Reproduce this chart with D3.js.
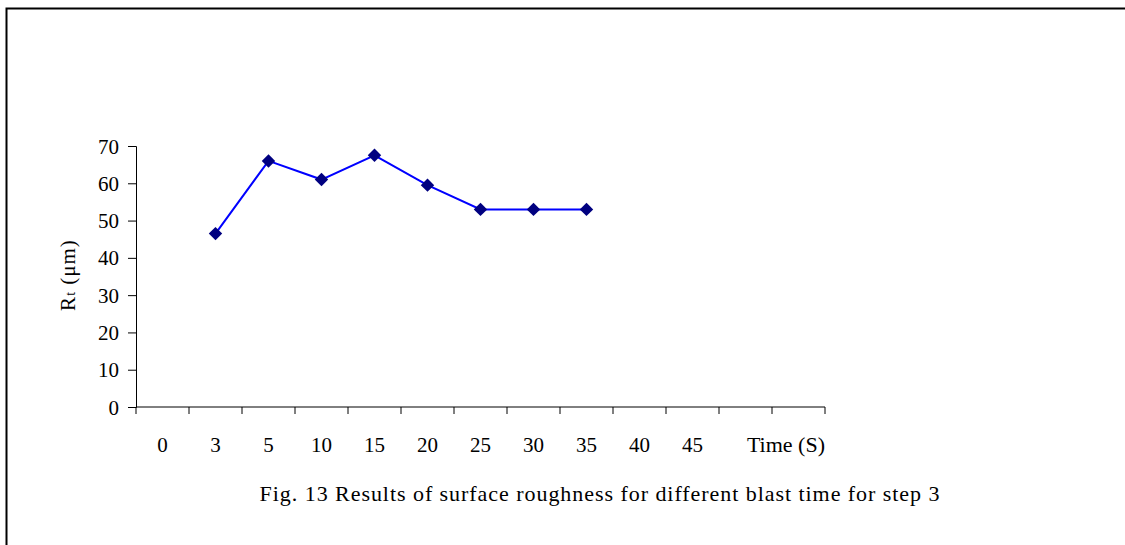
<!DOCTYPE html>
<html><head><meta charset="utf-8">
<script src="https://cdn.jsdelivr.net/npm/d3@7"></script>
<style>body{margin:0;background:#fff}svg{display:block}text{font-family:"Liberation Serif","Times New Roman",serif;fill:#000}</style>
</head><body>
<script>
const categories = ["0","3","5","10","15","20","25","30","35","40","45","",""];
const pointCats = ["3","5","10","15","20","25","30","35"];
const rtValues = [46.5, 66, 61, 67.5, 59.5, 53, 53, 53];
const yTicks = [0,10,20,30,40,50,60,70];

const W=1125,H=545;
const svg=d3.select("body").append("svg").attr("width",W).attr("height",H);
svg.append("path").attr("d","M6.5,"+(H+5)+"V8.5H"+(W+5)).attr("fill","none").attr("stroke","#000").attr("stroke-width",2);

const x=d3.scaleBand().domain(categories.map((c,i)=>i)).range([136,825]);
const y=d3.scaleLinear().domain([0,70]).range([407,146]);

const yAxis=svg.append("g").attr("transform","translate(136,0)")
  .call(d3.axisLeft(y).tickValues(yTicks).tickSize(8).tickPadding(9).tickFormat(d3.format("d")));
yAxis.selectAll("text").style("font-size","21px").attr("dy","0.34em");
yAxis.select(".domain").attr("stroke","#000");

const xAxis=svg.append("g").attr("transform","translate(0,407)")
  .call(d3.axisBottom(x).tickSize(0).tickPadding(0).tickFormat(i=>categories[i]));
xAxis.select(".domain").attr("d","M136,0H825");
xAxis.selectAll(".tick text").attr("y",45).attr("dy",0).style("font-size","21px");
const bounds=categories.map((c,i)=>x(i)).concat([825]);
xAxis.selectAll(".bt").data(bounds).enter().append("line").attr("class","bt")
  .attr("x1",d=>d).attr("x2",d=>d).attr("y1",0).attr("y2",7).attr("stroke","#000");

svg.append("text").attr("x",825).attr("y",452).attr("text-anchor","end").style("font-size","22px").text("Time (S)");

const yt=svg.append("text").attr("transform","translate(75,275) rotate(-90)").attr("text-anchor","middle").style("font-size","21px").style("letter-spacing","1px");
yt.append("tspan").text("R");
yt.append("tspan").style("font-size","14px").text("t");
yt.append("tspan").text(" (\u03bcm)");

const pts=pointCats.map((c,i)=>({x:x(categories.indexOf(c))+x.bandwidth()/2,y:y(rtValues[i])}));
svg.append("path").datum(pts).attr("fill","none").attr("stroke","#0000ff").attr("stroke-width",2)
  .attr("d",d3.line().x(d=>d.x).y(d=>d.y));
svg.selectAll(".mk").data(pts).enter().append("path").attr("class","mk")
  .attr("transform",d=>`translate(${d.x},${d.y})`)
  .attr("d",d3.symbol(d3.symbolDiamond2,115)).attr("fill","#000080");

svg.append("text").attr("x",600).attr("y",501).attr("text-anchor","middle").style("font-size","22px").style("letter-spacing","0.95px")
  .text("Fig. 13 Results of surface roughness for different blast time for step 3");
</script>
</body></html>
